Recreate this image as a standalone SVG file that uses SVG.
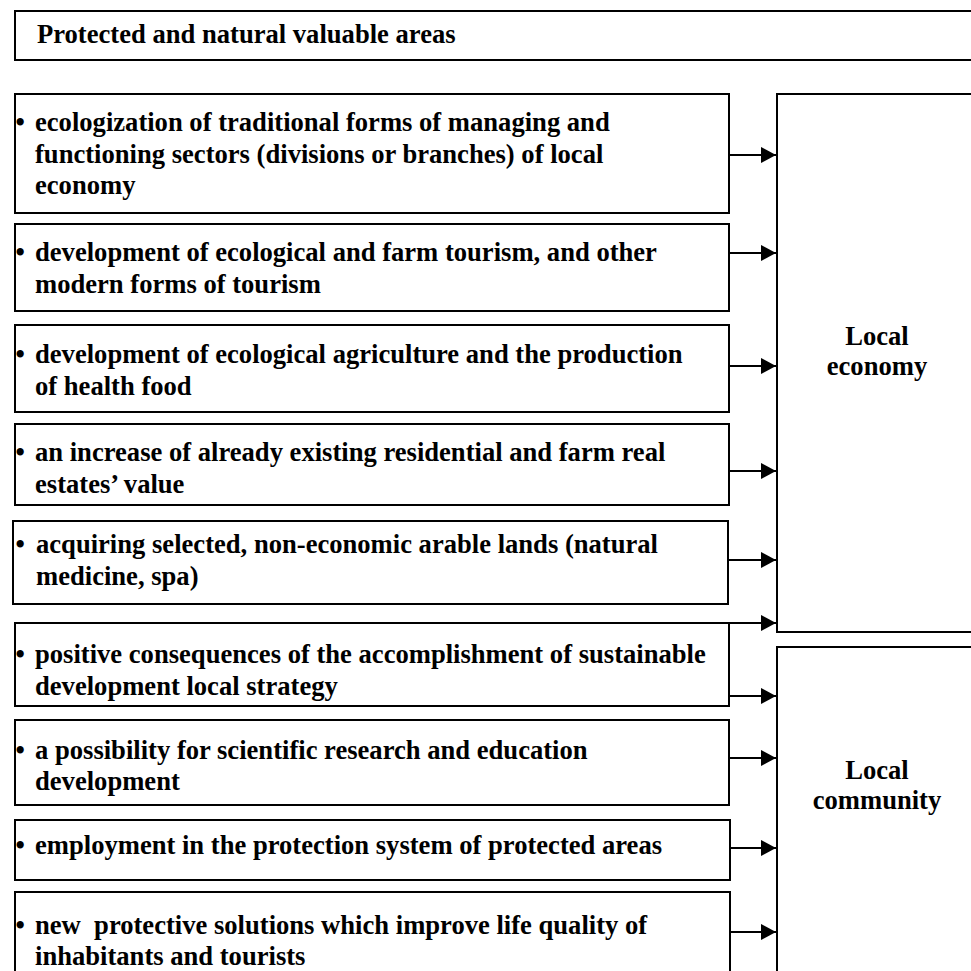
<svg xmlns="http://www.w3.org/2000/svg" width="971" height="971" viewBox="0 0 971 971">
<style>
.box{fill:#fff;stroke:#000;stroke-width:2}
.t{font-family:"Liberation Serif","Times New Roman",serif;font-weight:bold;font-size:26.6px;fill:#000}
.c{text-anchor:middle}
.con{stroke:#000;stroke-width:2;fill:none}
</style>
<defs>
<marker id="ah" markerWidth="8" markerHeight="8" refX="7.5" refY="4" orient="auto" markerUnits="strokeWidth">
<path d="M0,0 L7.5,4 L0,8 z" fill="#000"/>
</marker>
</defs>
<rect width="971" height="971" fill="#fff"/>
<g id="title">
<rect class="box" x="15" y="11" width="970" height="49"/>
<text class="t" x="37" y="43">Protected and natural valuable areas</text>
</g>
<g id="local-economy">
<rect class="box" x="777" y="94" width="210" height="538"/>
<text class="t c" x="877" y="345">Local</text>
<text class="t c" x="877" y="375">economy</text>
</g>
<g id="local-community">
<rect class="box" x="777" y="647" width="210" height="340"/>
<text class="t c" x="877" y="779">Local</text>
<text class="t c" x="877" y="809">community</text>
</g>
<g id="b1">
<rect class="box" x="15" y="94" width="714" height="119"/>
<text class="t"><tspan x="15.5" y="131">•</tspan><tspan x="35" y="131">ecologization of traditional forms of managing and</tspan><tspan x="35" y="163">functioning sectors (divisions or branches) of local</tspan><tspan x="35" y="194">economy</tspan></text>
</g>
<g id="b2">
<rect class="box" x="15" y="224" width="714" height="87"/>
<text class="t"><tspan x="15.5" y="261">•</tspan><tspan x="35" y="261">development of ecological and farm tourism, and other</tspan><tspan x="35" y="293">modern forms of tourism</tspan></text>
</g>
<g id="b3">
<rect class="box" x="15" y="325" width="714" height="87"/>
<text class="t"><tspan x="15.5" y="363">•</tspan><tspan x="35" y="363">development of ecological agriculture and the production</tspan><tspan x="35" y="395">of health food</tspan></text>
</g>
<g id="b4">
<rect class="box" x="15" y="424" width="714" height="81"/>
<text class="t"><tspan x="15.5" y="461">•</tspan><tspan x="35" y="461">an increase of already existing residential and farm real</tspan><tspan x="35" y="493">estates’ value</tspan></text>
</g>
<g id="b5">
<rect class="box" x="13" y="521" width="715" height="83"/>
<text class="t"><tspan x="15.5" y="553">•</tspan><tspan x="36" y="553">acquiring selected, non-economic arable lands (natural</tspan><tspan x="36" y="585">medicine, spa)</tspan></text>
</g>
<g id="b6">
<rect class="box" x="15" y="623" width="714" height="83"/>
<text class="t"><tspan x="15.5" y="663">•</tspan><tspan x="35" y="663">positive consequences of the accomplishment of sustainable</tspan><tspan x="35" y="695">development local strategy</tspan></text>
</g>
<g id="b7">
<rect class="box" x="15" y="720" width="714" height="85"/>
<text class="t"><tspan x="15.5" y="759">•</tspan><tspan x="35" y="759">a possibility for scientific research and education</tspan><tspan x="35" y="790">development</tspan></text>
</g>
<g id="b8">
<rect class="box" x="15" y="820" width="715" height="60"/>
<text class="t"><tspan x="15.5" y="854">•</tspan><tspan x="35" y="854">employment in the protection system of protected areas</tspan></text>
</g>
<g id="b9">
<rect class="box" x="15" y="892" width="715" height="100"/>
<text class="t"><tspan x="15.5" y="934">•</tspan><tspan x="35" y="934" xml:space="preserve">new  protective solutions which improve life quality of</tspan><tspan x="35" y="965">inhabitants and tourists</tspan></text>
</g>
<g id="connectors">
<line class="con" x1="729" y1="155" x2="776" y2="155" marker-end="url(#ah)"/>
<line class="con" x1="729" y1="253" x2="776" y2="253" marker-end="url(#ah)"/>
<line class="con" x1="729" y1="366" x2="776" y2="366" marker-end="url(#ah)"/>
<line class="con" x1="729" y1="471" x2="776" y2="471" marker-end="url(#ah)"/>
<line class="con" x1="728" y1="560" x2="776" y2="560" marker-end="url(#ah)"/>
<line class="con" x1="729" y1="623" x2="776" y2="623" marker-end="url(#ah)"/>
<line class="con" x1="729" y1="696" x2="776" y2="696" marker-end="url(#ah)"/>
<line class="con" x1="729" y1="758" x2="776" y2="758" marker-end="url(#ah)"/>
<line class="con" x1="730" y1="848" x2="776" y2="848" marker-end="url(#ah)"/>
<line class="con" x1="730" y1="932" x2="776" y2="932" marker-end="url(#ah)"/>
</g>
</svg>
